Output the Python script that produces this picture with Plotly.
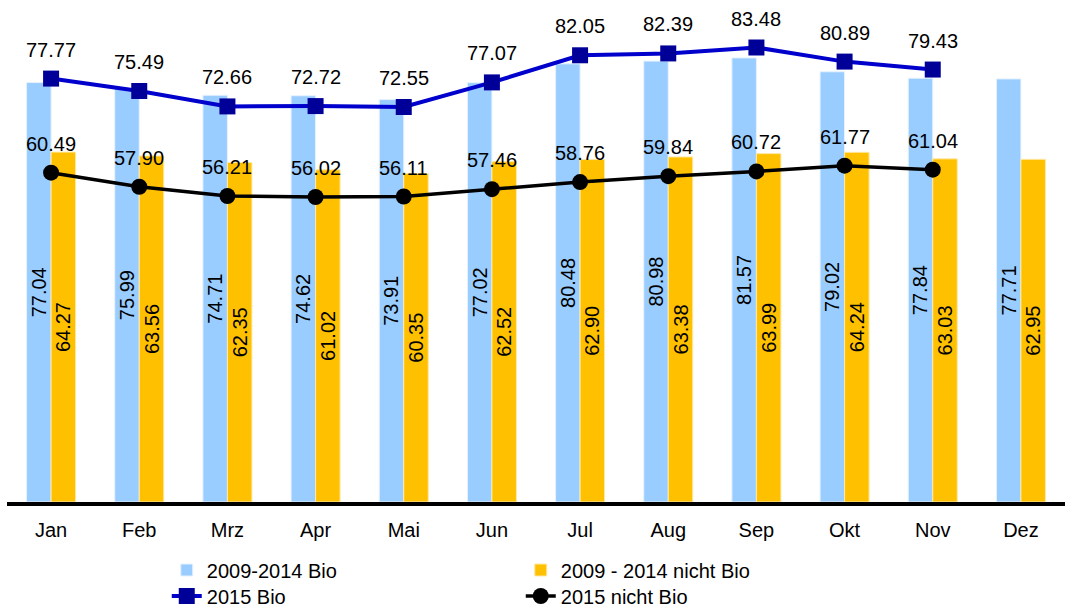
import plotly.graph_objects as go

months = ["Jan", "Feb", "Mrz", "Apr", "Mai", "Jun", "Jul", "Aug", "Sep", "Okt", "Nov", "Dez"]
bio_2009_2014 = [77.04, 75.99, 74.71, 74.62, 73.91, 77.02, 80.48, 80.98, 81.57, 79.02, 77.84, 77.71]
nicht_bio_2009_2014 = [64.27, 63.56, 62.35, 61.02, 60.35, 62.52, 62.90, 63.38, 63.99, 64.24, 63.03, 62.95]
bio_2015 = [77.77, 75.49, 72.66, 72.72, 72.55, 77.07, 82.05, 82.39, 83.48, 80.89, 79.43, None]
nicht_bio_2015 = [60.49, 57.90, 56.21, 56.02, 56.11, 57.46, 58.76, 59.84, 60.72, 61.77, 61.04, None]

FONT = "Liberation Sans, Arial, sans-serif"


def fmt(vals):
    return ["" if v is None else f"{v:.2f}" for v in vals]


fig = go.Figure()

fig.add_trace(go.Bar(
    x=months, y=bio_2009_2014, name="2009-2014 Bio", legend="legend",
    marker=dict(color="#99CCFF", line=dict(color="#E6F2FF", width=1)),
    text=fmt(bio_2009_2014), textposition="inside", insidetextanchor="middle",
    textangle=-90, textfont=dict(color="black", size=20, family=FONT),
))
fig.add_trace(go.Bar(
    x=months, y=nicht_bio_2009_2014, name="2009 - 2014 nicht Bio", legend="legend",
    marker=dict(color="#FFC000", line=dict(color="#FFE9A8", width=1)),
    text=fmt(nicht_bio_2009_2014), textposition="inside", insidetextanchor="middle",
    textangle=-90, textfont=dict(color="black", size=20, family=FONT),
))
fig.add_trace(go.Scatter(
    x=months, y=bio_2015, name="2015 Bio", mode="lines+markers", legend="legend2",
    line=dict(color="#0000CC", width=4),
    marker=dict(symbol="square", size=16, color="#000099"),
))
fig.add_trace(go.Scatter(
    x=months, y=nicht_bio_2015, name="2015 nicht Bio", mode="lines+markers", legend="legend2",
    line=dict(color="black", width=3.5),
    marker=dict(symbol="circle", size=16, color="black"),
))

# value labels above the 2015 line markers
for series in (bio_2015, nicht_bio_2015):
    for m, v in zip(months, series):
        if v is None:
            continue
        fig.add_annotation(
            x=m, y=v, text=f"{v:.2f}", showarrow=False,
            yshift=29, font=dict(size=20, family=FONT, color="black"),
        )

legend_common = dict(
    orientation="h", xanchor="left", yanchor="top",
    entrywidth=309, entrywidthmode="pixels",
    font=dict(size=20, family=FONT), tracegroupgap=0,
    bgcolor="rgba(0,0,0,0)",
)

fig.update_layout(
    width=1070, height=608,
    margin=dict(l=7, r=5, t=12, b=106, autoexpand=False),
    paper_bgcolor="white", plot_bgcolor="white",
    font=dict(family=FONT, size=20, color="black"),
    barmode="group", bargap=0.444, bargroupgap=0,
    uniformtext=dict(minsize=20, mode="show"),
    showlegend=True,
    legend=dict(x=0.151, y=-0.099, **legend_common),
    legend2=dict(x=0.151, y=-0.152, **legend_common),
    xaxis=dict(
        range=[-0.5, len(months) - 0.5],
        showline=True, linecolor="black", linewidth=4,
        showgrid=False, ticks="", ticklabelstandoff=7,
        tickfont=dict(size=20, family=FONT),
    ),
    yaxis=dict(range=[0, 90], visible=False, showgrid=False, zeroline=False),
)

fig.write_html("out.html")
